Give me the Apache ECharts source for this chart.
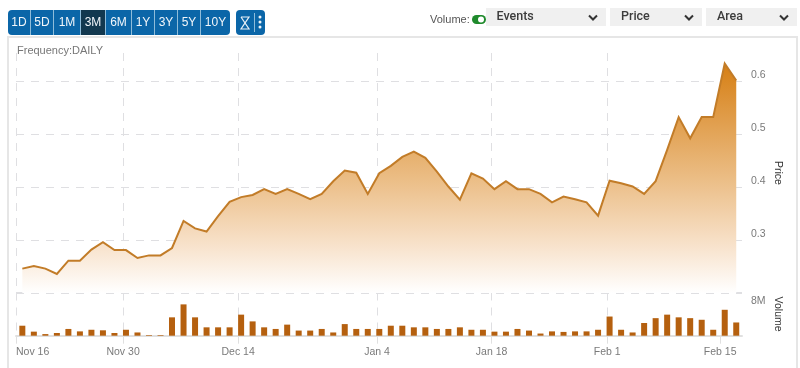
<!DOCTYPE html>
<html><head><meta charset="utf-8">
<style>html,body{margin:0;padding:0;background:#fff}#c{width:800px;height:368px}</style>
<script src="https://cdn.jsdelivr.net/npm/echarts@6/dist/echarts.min.js"></script>
</head><body><div id="c"></div>
<script>
const priceValues=[.246,.251,.246,.236,.261,.261,.282,.296,.281,.281,.266,.271,.271,.285,.336,.322,.316,.345,.372,.381,.385,.396,.387,.396,.387,.377,.387,.411,.431,.427,.387,.426,.44,.457,.467,.455,.429,.401,.376,.426,.416,.396,.411,.396,.396,.387,.371,.382,.377,.371,.346,.412,.407,.401,.387,.411,.470,.532,.492,.532,.532,.633,.601];
const volumeMillions=[1.85,.75,.3,.5,1.25,.8,1.1,1.0,.5,1.1,.6,.12,.12,3.4,5.8,3.4,1.55,1.55,1.55,3.9,2.65,1.55,1.25,2.05,.95,.95,1.25,.6,2.15,1.25,1.25,1.25,1.85,1.85,1.55,1.55,1.25,1.25,1.55,1.1,1.1,.75,.75,1.25,.95,.4,.8,.7,.8,.8,1.1,3.55,1.1,.6,2.35,3.25,3.9,3.4,3.25,2.95,1.1,4.8,2.45];
const tickLabels=['Nov 16','Nov 30','Dec 14','Jan 4','Jan 18','Feb 1','Feb 15'];
const tickDayPositions=[-0.55,8.75,18.74,30.8,40.75,50.8,60.6];
const rangeButtons=['1D','5D','1M','3M','6M','1Y','3Y','5Y','10Y'];
const dropdowns=['Events','Price','Area'];

const font='"Liberation Sans",Arial,sans-serif';
const gridColor='#dfdfe2', labelColor='#7a7a7a';
const btnEdges=[[8,30],[31,53],[54,80],[81,105],[106,131],[132,154],[155,177],[178,200],[201,230]];
const ddEdges=[[486,606,496.5],[610,702,621],[706,797,717]];
const g=[];
g.push({type:'rect',shape:{x:8,y:37,width:789,height:345},style:{fill:'#fff',stroke:'#e6e6e6',lineWidth:2},silent:true});
g.push({type:'rect',shape:{x:8,y:10,width:222,height:25,r:4},style:{fill:'#0b66a8'}});
btnEdges.forEach((e,i)=>{
  if(rangeButtons[i]==='3M')g.push({type:'rect',shape:{x:e[0],y:10,width:e[1]-e[0],height:25},style:{fill:'#12384f'}});
  if(i>0)g.push({type:'rect',shape:{x:e[0]-1,y:10,width:1,height:25},style:{fill:'#8fbcd9'}});
  g.push({type:'text',style:{x:(e[0]+e[1])/2,y:23,text:rangeButtons[i],fill:'#f2f6fa',font:'12px '+font,align:'center',verticalAlign:'middle'}});
});
g.push({type:'rect',shape:{x:236,y:10,width:29,height:25,r:4},style:{fill:'#0b66a8'}});
g.push({type:'polyline',shape:{points:[[241,17],[249,17],[241,29],[249,29],[241,17]]},style:{fill:null,stroke:'#e8f0f6',lineWidth:1.2}});
g.push({type:'rect',shape:{x:254,y:13,width:1,height:19},style:{fill:'#8fbcd9'}});
[17,22,27].forEach(y=>g.push({type:'circle',shape:{cx:260,cy:y,r:1.5},style:{fill:'#eef4f8'}}));
g.push({type:'text',style:{x:430,y:20,text:'Volume:',fill:'#555',font:'11px '+font,verticalAlign:'middle'}});
g.push({type:'rect',shape:{x:472,y:15,width:14,height:9,r:4.5},style:{fill:'#1f8a2c'}});
g.push({type:'circle',shape:{cx:481,cy:19.5,r:3},style:{fill:'#fff'}});
ddEdges.forEach((e,i)=>{
  g.push({type:'rect',shape:{x:e[0],y:8,width:e[1]-e[0],height:18},style:{fill:'#f0f0f0'}});
  g.push({type:'text',style:{x:e[2],y:17,text:dropdowns[i],fill:'#3c3c3c',font:'500 12.5px Roboto,'+font,verticalAlign:'middle'}});
  const cx=e[1]-13;
  g.push({type:'polyline',shape:{points:[[cx-4,15.5],[cx,19.5],[cx+4,15.5]]},style:{fill:null,stroke:'#333',lineWidth:2}});
});
g.push({type:'text',style:{x:17,y:50.5,text:'Frequency:DAILY',fill:'#777',font:'11px '+font,verticalAlign:'middle'}});

const xBase={type:'value',min:-0.55,max:62.5,splitLine:{show:true,showMaxLine:false,lineStyle:{color:gridColor,type:[8,7],width:1}},axisLine:{show:false}};
const option={animation:false,backgroundColor:'#fff',graphic:{elements:g},
 grid:[{left:16,right:58,top:53,height:240},{left:16,right:58,top:292.5,height:43.2}],
 xAxis:[
  Object.assign({},xBase,{gridIndex:0,axisTick:{show:false,customValues:tickDayPositions},axisLabel:{show:false}}),
  Object.assign({},xBase,{gridIndex:1,axisLine:{show:true,onZero:false,lineStyle:{color:'#e0e0e0',width:2}},
    axisTick:{show:true,length:8,inside:false,customValues:tickDayPositions,lineStyle:{color:'#e0e0e0'}},
    axisLabel:{show:true,customValues:tickDayPositions,margin:11,color:labelColor,fontSize:10.5,fontFamily:font,alignMinLabel:'left',
      showMinLabel:true,showMaxLabel:true,hideOverlap:false,
      formatter:v=>{const i=tickDayPositions.findIndex(p=>Math.abs(p-v)<1e-6);return i<0?'':tickLabels[i];}}})
 ],
 yAxis:[
  {type:'value',gridIndex:0,position:'right',min:0.2,max:0.653,interval:0.1,
   axisLine:{show:false},axisTick:{show:false},
   splitLine:{showMaxLine:false,lineStyle:{color:gridColor,type:[8,7]}},
   axisLabel:{color:labelColor,fontSize:10.5,fontFamily:font,margin:9,verticalAlign:'bottom',showMinLabel:false,showMaxLabel:false,
     formatter:v=>v.toFixed(1)},
   name:'Price',nameLocation:'middle',nameRotate:-90,nameGap:30,nameMoveOverlap:false,nameTextStyle:{color:'#333',fontSize:10.5,fontFamily:font}},
  {type:'value',gridIndex:1,position:'right',min:0,max:8,interval:8,
   axisLine:{show:false},axisTick:{show:false},
   splitLine:{lineStyle:{color:gridColor,type:[8,7]}},
   axisLabel:{color:labelColor,fontSize:10.5,fontFamily:font,margin:9,verticalAlign:'top',padding:[3,0,0,0],
     formatter:v=>v===8?'8M':''},
   name:'Volume',nameLocation:'middle',nameRotate:-90,nameGap:30,nameMoveOverlap:false,nameTextStyle:{color:'#333',fontSize:10.5,fontFamily:font}}
 ],
 series:[
  {type:'line',xAxisIndex:0,yAxisIndex:0,data:priceValues.map((v,i)=>[i,v]),symbol:'none',
   lineStyle:{color:'#c27c28',width:2,join:'miter'},
   areaStyle:{opacity:1,origin:'start',color:{type:'linear',x:0,y:0,x2:0,y2:1,colorStops:[{offset:0,color:'#d67f14'},{offset:0.5,color:'#ebbd85'},{offset:0.8,color:'#f8e3cd'},{offset:1,color:'#ffffff'}]}}},
  {type:'bar',xAxisIndex:1,yAxisIndex:1,data:volumeMillions.map((v,i)=>[i,v]),barWidth:6,itemStyle:{color:'#b5600f'}}
 ]};
echarts.init(document.getElementById('c')).setOption(option);
</script></body></html>
